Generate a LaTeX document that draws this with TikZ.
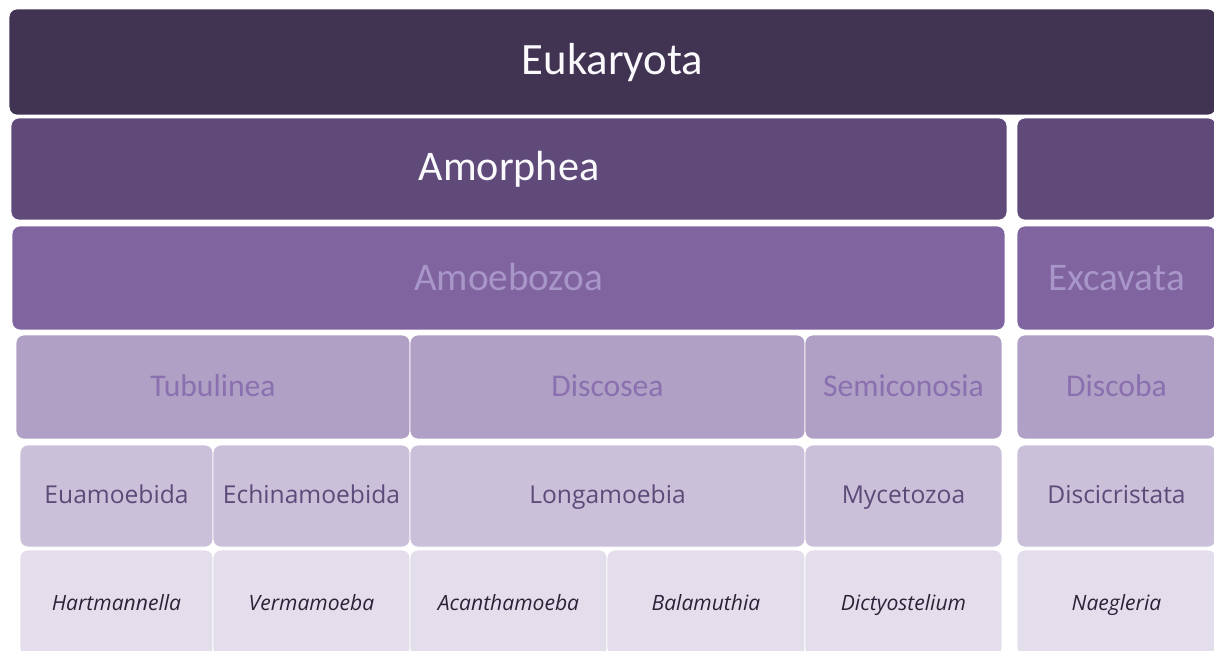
\documentclass[tikz,border=0pt]{standalone}
\usepackage{fontspec}
\setmainfont{Carlito}
\newfontfamily\opensans{Open Sans}
\definecolor{lvlone}{HTML}{413352}
\definecolor{lvltwo}{HTML}{5F4A7A}
\definecolor{lvlthree}{HTML}{7F64A0}
\definecolor{lvlfour}{HTML}{B0A0C6}
\definecolor{lvlfive}{HTML}{CBC0DA}
\definecolor{lvlsix}{HTML}{E4DEEC}
\definecolor{txtthree}{HTML}{A996C8}
\definecolor{txtfour}{HTML}{8A70AE}
\definecolor{txtfive}{HTML}{5C4A78}
\definecolor{txtsix}{HTML}{2B2238}
\begin{document}
\begin{tikzpicture}[x=0.02cm, y=-0.02cm,
  cell/.style={draw=white, line width=0.4pt, rounded corners=4.5pt, inner sep=0pt, outer sep=0pt},
  rowone/.style={cell, fill=lvlone, text=white!94!lvlfour, minimum height=2.12cm, text height=19pt, text depth=5pt, font=\fontsize{25.5}{30}\selectfont},
  rowtwo/.style={cell, fill=lvltwo, text=white!94!lvlfour, minimum height=2.04cm, text height=17.5pt, text depth=4.5pt, font=\fontsize{24}{28}\selectfont},
  rowthree/.style={cell, fill=lvlthree, text=txtthree, minimum height=2.08cm, text height=17.7pt, text depth=3.1pt, font=\fontsize{22.3}{27}\selectfont},
  rowfour/.style={cell, fill=lvlfour, text=txtfour, minimum height=2.08cm, text height=14.1pt, text depth=2.9pt, font=\fontsize{18}{22}\selectfont},
  rowfive/.style={cell, fill=lvlfive, text=txtfive, minimum height=2.04cm, text height=11pt, text depth=2.7pt, font=\opensans\fontsize{14}{17}\selectfont},
  rowsix/.style={cell, fill=lvlsix, text=txtsix, minimum height=2.12cm, text height=10.1pt, text depth=1.7pt, font=\opensans\itshape\fontsize{12}{14}\selectfont}]
\useasboundingbox (0,0) rectangle (1214,650);
\clip (0,0) rectangle (1214,650);

% Domain
\node [rowone, minimum width=24.14cm] (eukaryota) at (612.5,62) {Eukaryota};

% Supergroups
\node [rowtwo, minimum width=19.92cm] (amorphea) at (509,169) {Amorphea};
\node [rowtwo, minimum width=3.98cm] (sister) at (1116.5,169) {};

% Phyla
\node [rowthree, minimum width=19.86cm] (amoebozoa) at (508.5,278) {Amoebozoa};
\node [rowthree, minimum width=3.98cm] (excavata) at (1116.5,278) {Excavata};

% Classes
\node [rowfour, minimum width=7.88cm] (tubulinea) at (213,387) {Tubulinea};
\node [rowfour, minimum width=7.90cm] (discosea) at (607.5,387) {Discosea};
\node [rowfour, minimum width=3.94cm] (semiconosia) at (903.5,387) {Semiconosia};
\node [rowfour, minimum width=3.98cm] (discoba) at (1116.5,387) {Discoba};

% Orders
\node [rowfive, minimum width=3.86cm] (euamoebida) at (116.5,496) {Euamoebida};
\node [rowfive, minimum width=3.94cm] (echinamoebida) at (311.5,496) {Echinamoebida};
\node [rowfive, minimum width=7.90cm] (longamoebia) at (607.5,496) {Longamoebia};
\node [rowfive, minimum width=3.94cm] (mycetozoa) at (903.5,496) {Mycetozoa};
\node [rowfive, minimum width=3.98cm] (discicristata) at (1116.5,496) {Discicristata};

% Genera
\node [rowsix, minimum width=3.86cm] (hartmannella) at (116.5,603) {Hartmannella};
\node [rowsix, minimum width=3.94cm] (vermamoeba) at (311.5,603) {Vermamoeba};
\node [rowsix, minimum width=3.94cm] (acanthamoeba) at (508.5,603) {Acanthamoeba};
\node [rowsix, minimum width=3.96cm] (balamuthia) at (706,603) {Balamuthia};
\node [rowsix, minimum width=3.94cm] (dictyostelium) at (903.5,603) {Dictyostelium};
\node [rowsix, minimum width=3.98cm] (naegleria) at (1116.5,603) {Naegleria};
\end{tikzpicture}
\end{document}
